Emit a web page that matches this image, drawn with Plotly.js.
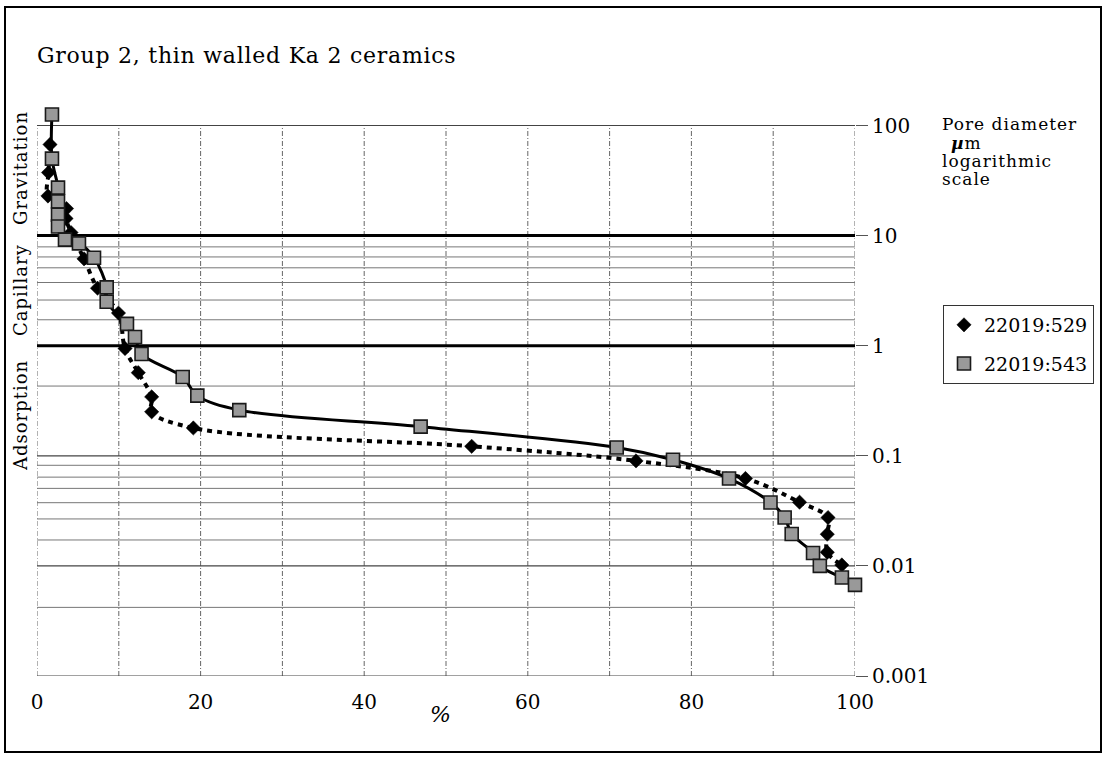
<!DOCTYPE html>
<html>
<head>
<meta charset="utf-8">
<script src="https://cdn.plot.ly/plotly-3.0.1.min.js"></script>
<style>
  html, body { margin: 0; padding: 0; background: #fff; }
  #chart { width: 1107px; height: 760px; }
  #chart text { font-family: "DejaVu Serif", "Noto Serif", "Liberation Serif", serif !important; }
  .gtitle { letter-spacing: 0.75px; }
  .annotation-text { letter-spacing: 1px; }
</style>
</head>
<body>
<div id="chart"></div>
<script>
// ---- data ----
const pct529 = [1.59, 1.41, 1.34, 3.61, 3.55, 4.16, 5.75, 7.40, 9.96, 10.76, 12.38, 14.02, 14.02, 19.11, 53.14, 73.23, 86.61, 93.22, 96.70, 96.61, 96.61, 98.39];
const dia529 = [67.2, 37.4, 22.9, 17.6, 14.3, 10.65, 6.15, 3.33, 1.98, 0.943, 0.569, 0.343, 0.251, 0.179, 0.122, 0.0899, 0.0622, 0.0379, 0.0275, 0.0194, 0.0133, 0.0102];

const pct543 = [1.83, 1.83, 2.57, 2.57, 2.57, 2.57, 3.42, 5.13, 6.97, 8.52, 8.52, 11.0, 11.98, 12.78, 17.81, 19.6, 24.73, 46.9, 70.87, 77.75, 84.6, 89.67, 91.4, 92.26, 94.87, 95.7, 98.4, 100.0];
const dia543 = [126, 50, 27.3, 20.4, 15.5, 12.1, 9.2, 8.5, 6.3, 3.39, 2.51, 1.58, 1.2, 0.84, 0.52, 0.352, 0.26, 0.184, 0.119, 0.0922, 0.0622, 0.0377, 0.0275, 0.0195, 0.0131, 0.01, 0.00784, 0.00672];

const seriesNames = ['22019:529', '22019:543'];
const xTicks = [0, 20, 40, 60, 80, 100];
const yTicks = [0.001, 0.01, 0.1, 1, 10, 100];
const yTickText = ['0.001', '0.01', '0.1', '1', '10', '100'];
const gridPct = [0, 10, 20, 30, 40, 50, 60, 70, 80, 90, 100];
const decadeLines = [100, 0.1, 0.01, 0.001];
const boundaryLines = [10, 1];
const minorLines = [7.9, 6.4, 5.1, 3.75, 2.6, 1.72, 0.43, 0.082, 0.064, 0.0506, 0.0375, 0.0267, 0.0172, 0.0042];
const regionLabels = ['Gravitation', 'Capillary', 'Adsorption'];
const regionCenters = [168, 290, 416]; // pixel centres (layout)

// ---- layout geometry ----
const W = 1107, H = 760;
const M = { l: 37, r: 252, t: 109, b: 84 };
const PW = W - M.l - M.r, PH = H - M.t - M.b;
const px2x = p => (p - M.l) / PW;
const py2y = p => (H - M.b - p) / PH;
const FONT = 'DejaVu Serif';

function hLines(vals) {
  const x = [], y = [];
  vals.forEach(v => { x.push(0, 100, null); y.push(v, v, null); });
  return { x, y };
}
function vLines(vals) {
  const x = [], y = [];
  vals.forEach(v => { x.push(v, v, null); y.push(0.001, 100, null); });
  return { x, y };
}

const base = { type: 'scatter', mode: 'lines', hoverinfo: 'skip', showlegend: false };
const vg = vLines(gridPct), mg = hLines(minorLines), dg = hLines(decadeLines), bg = hLines(boundaryLines);

const data = [
  Object.assign({}, base, { x: vg.x, y: vg.y, line: { color: '#666', width: 1, dash: '5px,2px,1px,2px' } }),
  Object.assign({}, base, { x: mg.x, y: mg.y, line: { color: '#777', width: 1 } }),
  Object.assign({}, base, { x: dg.x, y: dg.y, line: { color: '#444', width: 1.2 } }),
  Object.assign({}, base, { x: bg.x, y: bg.y, line: { color: '#000', width: 3 } }),
  Object.assign({}, base, { x: pct529, y: dia529, line: { color: '#000', width: 4, dash: '5px,5px', shape: 'spline', smoothing: 1 } }),
  Object.assign({}, base, { x: pct543, y: dia543, line: { color: '#000', width: 3, shape: 'spline', smoothing: 1 } }),
  { type: 'scatter', mode: 'markers', name: seriesNames[0], legendgroup: 'a', x: pct529, y: dia529, cliponaxis: false, hoverinfo: 'skip',
    marker: { symbol: 'diamond', size: 11, color: '#000', line: { color: '#000', width: 0.5 } } },
  { type: 'scatter', mode: 'markers', name: seriesNames[1], legendgroup: 'b', x: pct543, y: dia543, cliponaxis: false, hoverinfo: 'skip',
    marker: { symbol: 'square', size: 13, color: '#999999', line: { color: '#1a1a1a', width: 1.6 } } }
];

const annotations = [];
regionLabels.forEach((t, i) => annotations.push({
  text: t, xref: 'paper', yref: 'paper', x: px2x(20), y: py2y(regionCenters[i]),
  xanchor: 'center', yanchor: 'middle', textangle: -90, showarrow: false,
  font: { family: FONT, size: 18, color: '#000' }
}));
const poreLines = [['Pore diameter', 940, 124], ['<b><i>µ</i></b>m', 949, 143], ['logarithmic', 940, 161], ['scale', 940, 179]];
poreLines.forEach(p => annotations.push({
  text: p[0], xref: 'paper', yref: 'paper', x: px2x(p[1]), y: py2y(p[2]),
  xanchor: 'left', yanchor: 'middle', showarrow: false,
  font: { family: FONT, size: 17, color: '#000' }
}));
annotations.push({
  text: '<i>%</i>', xref: 'paper', yref: 'paper', x: px2x(441), y: py2y(714),
  xanchor: 'center', yanchor: 'middle', showarrow: false,
  font: { family: FONT, size: 22, color: '#000' }
});

const layout = {
  width: W, height: H,
  margin: M,
  paper_bgcolor: '#fff', plot_bgcolor: '#fff',
  title: { text: 'Group 2, thin walled Ka 2 ceramics', xref: 'container', yref: 'container',
           x: 37 / W, xanchor: 'left', y: 1 - 55 / H, yanchor: 'middle',
           font: { family: FONT, size: 22, color: '#000' } },
  font: { family: FONT, color: '#000' },
  xaxis: { range: [0, 100], showgrid: false, zeroline: false, showline: false,
           tickmode: 'array', tickvals: xTicks, ticks: '', ticklabelstandoff: 12,
           tickfont: { family: FONT, size: 20, color: '#000' } },
  yaxis: { type: 'log', range: [-3, 2.15], side: 'right', showgrid: false, zeroline: false, showline: false,
           tickmode: 'array', tickvals: yTicks, ticktext: yTickText,
           ticks: 'outside', ticklen: 12, tickcolor: '#555', tickwidth: 1,
           tickfont: { family: FONT, size: 20, color: '#000' } },
  showlegend: true,
  legend: { x: px2x(943), y: py2y(305), xanchor: 'left', yanchor: 'top',
            bgcolor: '#fff', bordercolor: '#333', borderwidth: 1,
            tracegroupgap: 11, entrywidth: 114, entrywidthmode: 'pixels',
            font: { family: FONT, size: 19, color: '#000' } },
  annotations: annotations,
  shapes: [{ type: 'rect', xref: 'paper', yref: 'paper',
             x0: px2x(5), x1: px2x(1101), y0: py2y(752), y1: py2y(7),
             line: { color: '#000', width: 2 }, fillcolor: 'rgba(0,0,0,0)', layer: 'below' }]
};

Plotly.newPlot('chart', data, layout, { staticPlot: true });
</script>
</body>
</html>
